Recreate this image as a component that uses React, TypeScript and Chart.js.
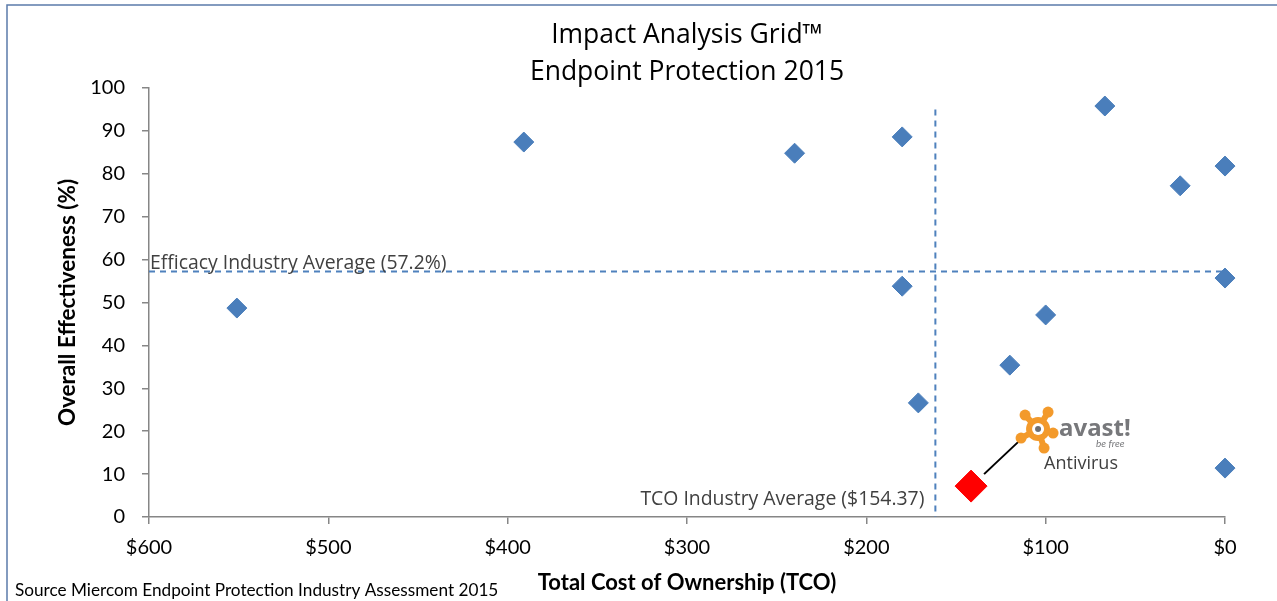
import React, { useEffect, useRef } from "react";
import { Chart, registerables } from "chart.js";

Chart.register(...registerables);

// ---- Data ----
const vendorTco: number[] = [551, 391, 240, 180, 180, 171, 120, 100, 67, 25, 0, 0, 0];
const vendorEffectiveness: number[] = [48.7, 87.4, 84.8, 88.6, 53.8, 26.6, 35.4, 47.1, 95.8, 77.2, 81.8, 55.7, 11.4];
const avastTco: number[] = [141.6];
const avastEffectiveness: number[] = [7.2];
const efficacyAverage = 57.2;
const tcoAverageLine = 161.5; // position where the reference draws the TCO average line
const xTicks: number[] = [600, 500, 400, 300, 200, 100, 0];

const titleLines = ["Impact Analysis Grid™", "Endpoint Protection 2015"];
const efficacyLabel = "Efficacy Industry Average (57.2%)";
const tcoLabel = "TCO Industry Average ($154.37)";
const sourceText = "Source Miercom Endpoint Protection Industry Assessment 2015";
const xTitle = "Total Cost of Ownership (TCO)";
const yTitle = "Overall Effectiveness (%)";

const BLUE = "#4a7ebb";
const SEGOE = "'Open Sans', 'Noto Sans', sans-serif";
const CALIBRI = "Lato, 'Open Sans', sans-serif";

const decorPlugin = {
  id: "decor",
  beforeDatasetsDraw(chart: any) {
    const { ctx, chartArea, scales } = chart;
    const x = scales.x;
    const y = scales.y;
    ctx.save();
    ctx.strokeStyle = "#4f81bd";
    ctx.lineWidth = 2;
    ctx.setLineDash([6, 5]);
    const yy = y.getPixelForValue(efficacyAverage);
    ctx.beginPath();
    ctx.moveTo(chartArea.left, yy);
    ctx.lineTo(chartArea.right, yy);
    ctx.stroke();
    const xx = x.getPixelForValue(tcoAverageLine);
    ctx.beginPath();
    ctx.moveTo(xx, y.getPixelForValue(95));
    ctx.lineTo(xx, chartArea.bottom);
    ctx.stroke();
    ctx.setLineDash([]);

    // connector from Avast point to logo
    const px = x.getPixelForValue(avastTco[0]);
    const py = y.getPixelForValue(avastEffectiveness[0]);
    ctx.strokeStyle = "#000";
    ctx.lineWidth = 2;
    ctx.beginPath();
    ctx.moveTo(px + 13, py - 12);
    ctx.lineTo(px + 48, py - 45);
    ctx.stroke();
    ctx.restore();
  },
  afterDraw(chart: any) {
    const { ctx, chartArea, scales } = chart;
    const x = scales.x;
    const y = scales.y;
    ctx.save();
    // outer border
    ctx.strokeStyle = "#5b7bab";
    ctx.lineWidth = 1.5;
    ctx.strokeRect(7, 5, 1300, 700);

    // title
    const cx = (chartArea.left + chartArea.right) / 2;
    ctx.fillStyle = "#000";
    ctx.textAlign = "center";
    ctx.textBaseline = "alphabetic";
    ctx.font = `26.5px ${SEGOE}`;
    ctx.fillText(titleLines[0], cx, 43);
    ctx.fillText(titleLines[1], cx, 80);

    // annotation labels
    ctx.fillStyle = "#404040";
    ctx.font = `19.4px ${SEGOE}`;
    ctx.textAlign = "left";
    ctx.fillText(efficacyLabel, chartArea.left + 1, y.getPixelForValue(efficacyAverage) - 3);
    ctx.textAlign = "right";
    ctx.fillText(tcoLabel, x.getPixelForValue(tcoAverageLine) - 11, 505);

    // source text
    ctx.fillStyle = "#000";
    ctx.textAlign = "left";
    ctx.font = `17.2px ${CALIBRI}`;
    ctx.fillText(sourceText, 15, 596);

    // avast logo
    const px = x.getPixelForValue(avastTco[0]);
    const py = y.getPixelForValue(avastEffectiveness[0]);
    const lx = px + 67;
    const ly = py - 57;
    ctx.fillStyle = "#f39a2b";
    const lobes = [
      [-13, -14],
      [10, -17],
      [15, 4],
      [6, 19],
      [-17, 9],
    ];
    ctx.beginPath();
    ctx.arc(lx, ly, 12, 0, Math.PI * 2);
    ctx.fill();
    for (const [dx, dy] of lobes) {
      ctx.beginPath();
      ctx.arc(lx + dx, ly + dy, 5.5, 0, Math.PI * 2);
      ctx.fill();
      ctx.beginPath();
      ctx.moveTo(lx, ly);
      ctx.lineWidth = 6;
      ctx.strokeStyle = "#f39a2b";
      ctx.lineTo(lx + dx, ly + dy);
      ctx.stroke();
    }
    ctx.fillStyle = "#fff";
    ctx.beginPath();
    ctx.arc(lx, ly, 6, 0, Math.PI * 2);
    ctx.fill();
    ctx.fillStyle = "#6d6e71";
    ctx.beginPath();
    ctx.arc(lx, ly, 3, 0, Math.PI * 2);
    ctx.fill();

    ctx.textAlign = "left";
    ctx.fillStyle = "#77787b";
    ctx.font = `bold 24px 'Noto Sans', ${CALIBRI}`;
    ctx.fillText("avast!", lx + 21, ly + 7);
    ctx.font = `italic 10px ${CALIBRI}`;
    ctx.fillText("be free", lx + 58, ly + 18);

    ctx.fillStyle = "#404040";
    ctx.font = `18px ${SEGOE}`;
    ctx.fillText("Antivirus", lx + 6, ly + 40);
    ctx.restore();
  },
};

export default function App() {
  const canvasRef = useRef<HTMLCanvasElement | null>(null);

  useEffect(() => {
    if (!canvasRef.current) return;
    const chart = new Chart(canvasRef.current, {
      type: "scatter",
      data: {
        datasets: [
          {
            label: "Vendors",
            data: vendorTco.map((v, i) => ({ x: v, y: vendorEffectiveness[i] })),
            pointStyle: "rectRot",
            pointRadius: 10,
            backgroundColor: BLUE,
            borderColor: BLUE,
            borderWidth: 1,
            clip: false,
          },
          {
            label: "Avast",
            data: avastTco.map((v, i) => ({ x: v, y: avastEffectiveness[i] })),
            pointStyle: "rectRot",
            pointRadius: 16,
            backgroundColor: "#ff0000",
            borderColor: "#ff0000",
            borderWidth: 1,
            clip: false,
          },
        ],
      },
      options: {
        responsive: false,
        animation: false,
        layout: { padding: { left: 0, right: 52, top: 88, bottom: 0 } },
        plugins: {
          legend: { display: false },
          title: { display: false },
          tooltip: { enabled: false },
        },
        scales: {
          x: {
            type: "linear",
            min: 0,
            max: 600,
            reverse: true,
            afterFit: (s: any) => {
              s.height = 84;
            },
            afterBuildTicks: (s: any) => {
              s.ticks = xTicks.map((v) => ({ value: v }));
            },
            ticks: {
              callback: (v: any) => "$" + v,
              color: "#000",
              font: { family: CALIBRI, size: 20 },
              padding: 12,
              maxRotation: 0,
            },
            grid: {
              drawOnChartArea: false,
              drawTicks: true,
              tickLength: 7,
              color: "#868686",
              lineWidth: 1.5,
            },
            border: { color: "#868686", width: 1.5 },
            title: {
              display: true,
              text: xTitle,
              color: "#000",
              font: { family: CALIBRI, size: 22, weight: "bold" },
              padding: { top: 0, bottom: 5 },
            },
          },
          y: {
            type: "linear",
            min: 0,
            max: 100,
            afterFit: (s: any) => {
              s.width = 149;
            },
            ticks: {
              stepSize: 10,
              color: "#000",
              font: { family: CALIBRI, size: 20 },
              padding: 17,
            },
            grid: {
              drawOnChartArea: false,
              drawTicks: true,
              tickLength: 7,
              color: "#868686",
              lineWidth: 1.5,
            },
            border: { color: "#868686", width: 1.5 },
            title: {
              display: true,
              text: yTitle,
              color: "#000",
              font: { family: CALIBRI, size: 22.5, weight: "bold" },
              padding: { top: 54, bottom: 0 },
            },
          },
        },
      },
      plugins: [decorPlugin],
    } as any);
    return () => chart.destroy();
  }, []);

  return (
    <div style={{ position: "fixed", left: 0, top: 0, width: 1277, height: 601, background: "#fff" }}>
      <canvas ref={canvasRef} width={1277} height={601} style={{ display: "block" }} />
    </div>
  );
}
